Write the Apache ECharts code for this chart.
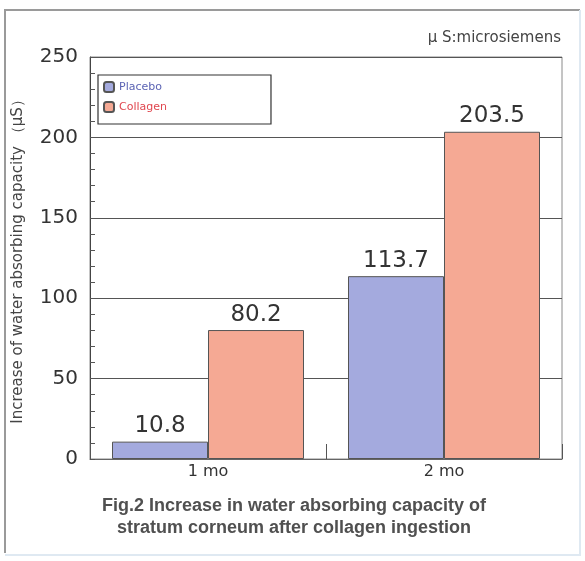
<!DOCTYPE html>
<html>
<head>
<meta charset="utf-8">
<script src="https://cdn.jsdelivr.net/npm/echarts@6/dist/echarts.min.js"></script>
<style>
  html, body { margin: 0; padding: 0; background: #ffffff; }
  #chart { width: 585px; height: 561px; }
</style>
</head>
<body>
<div id="chart"></div>
<script>
// Months after the start of ingestion
const categories = ['1 mo', '2 mo'];
// Increase in water absorbing capacity (μS)
const placebo = [10.8, 113.7];
const collagen = [80.2, 203.5];
const yTicks = [0, 50, 100, 150, 200, 250];

const chart = echarts.init(document.getElementById('chart'), null, { renderer: 'canvas' });

const font = '"DejaVu Sans", Verdana, sans-serif';
const captionFont = '"Liberation Sans", Arial, Helvetica, sans-serif';

chart.setOption({
  backgroundColor: '#ffffff',
  animation: false,
  textStyle: { fontFamily: font },
  grid: {
    left: 90, right: 23, top: 57, bottom: 102,
    show: true, borderColor: '#8a8a8a', borderWidth: 1, backgroundColor: 'transparent'
  },
  legend: {
    orient: 'vertical',
    left: 98, top: 75,
    padding: [6, 104, 11, 5],
    itemGap: 8,
    itemWidth: 10, itemHeight: 10,
    borderColor: '#333', borderWidth: 1.2,
    textStyle: { fontSize: 11, fontFamily: font },
    data: [
      { name: 'Placebo', textStyle: { color: '#5c64b4' } },
      { name: 'Collagen', textStyle: { color: '#e0474f' } }
    ]
  },
  xAxis: {
    type: 'category',
    data: categories,
    boundaryGap: true,
    axisLine: { lineStyle: { color: '#666', width: 1 } },
    axisTick: { show: true, inside: true, length: 15, lineStyle: { color: '#555' } },
    axisLabel: { fontSize: 16, color: '#333', margin: 5 }
  },
  yAxis: {
    type: 'value',
    min: yTicks[0], max: yTicks[yTicks.length - 1], interval: 50,
    name: 'Increase of water absorbing capacity （μS）',
    nameLocation: 'middle',
    nameGap: 64,
    nameTextStyle: { fontSize: 15, color: '#444' },
    axisLine: { show: true, lineStyle: { color: '#444', width: 1 } },
    axisTick: { show: true, inside: true, length: 5, lineStyle: { color: '#555' } },
    minorTick: { show: true, splitNumber: 5, length: 5, lineStyle: { color: '#555' } },
    splitLine: { show: true, lineStyle: { color: '#555', width: 1 } },
    axisLabel: { fontSize: 20, color: '#333', margin: 12 }
  },
  series: [
    {
      name: 'Placebo', type: 'bar', data: placebo,
      barWidth: 96, barGap: '0%',
      itemStyle: { color: '#a4aade', borderColor: '#555', borderWidth: 1 },
      label: { show: true, position: 'top', distance: 4, fontSize: 23, color: '#333' }
    },
    {
      name: 'Collagen', type: 'bar', data: collagen,
      barWidth: 96, barGap: '0%',
      itemStyle: { color: '#f5a994', borderColor: '#555', borderWidth: 1 },
      label: { show: true, position: 'top', distance: 4, fontSize: 23, color: '#333' }
    }
  ],
  graphic: [
    // outer figure frame
    { type: 'polyline', shape: { points: [[5, 553], [5, 10], [580, 10]] },
      style: { stroke: '#9a9a9a', lineWidth: 2, fill: null } },
    { type: 'polyline', shape: { points: [[580, 10], [580, 555], [5, 555]] },
      style: { stroke: '#dfe9f2', lineWidth: 2, fill: null } },
    // unit note
    { type: 'text', right: 24, top: 31,
      style: { text: 'μ S:microsiemens', fontSize: 15, fill: '#444', fontFamily: font } },
    // figure caption
    { type: 'text', x: 294, y: 495,
      style: {
        text: 'Fig.2 Increase in water absorbing capacity of\nstratum corneum after collagen ingestion',
        fontSize: 18, fontWeight: 'bold', fill: '#505050', align: 'center',
        lineHeight: 22, fontFamily: captionFont
      } }
  ]
});
</script>
</body>
</html>
